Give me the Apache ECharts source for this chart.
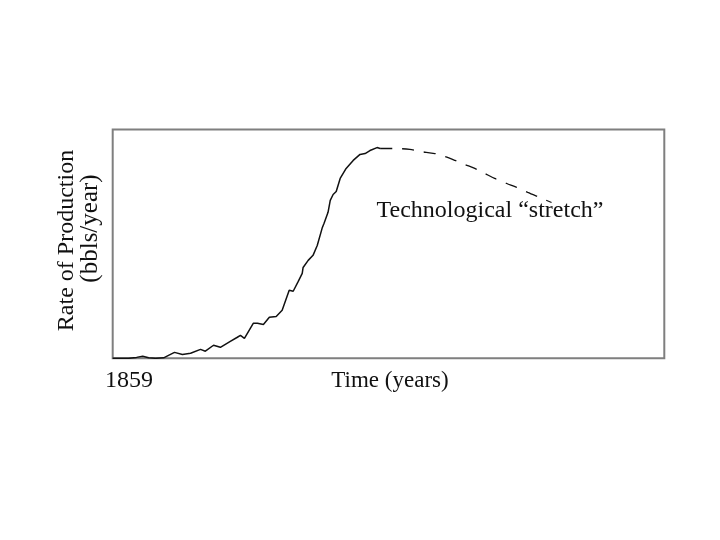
<!DOCTYPE html>
<html>
<head>
<meta charset="utf-8">
<script src="https://cdn.jsdelivr.net/npm/echarts@6/dist/echarts.min.js"></script>
<style>html,body{margin:0;padding:0;background:#fff;}#c{width:720px;height:540px;}</style>
</head>
<body>
<div id="c"></div>
<script>
// Historical (solid) production curve: [year, rate]
const historicalYears = [1859.0,1866.2,1869.8,1872.6,1875.3,1878.4,1882.1,1884.3,1887.0,1890.6,1894.3,1898.8,1901.0,1904.7,1907.8,1912.3,1915.5,1916.9,1918.7,1922.7,1924.6,1927.3,1930.0,1933.1,1935.8,1939.0,1940.8,1943.1,1944.9,1945.3,1947.6,1949.8,1951.7,1953.9,1954.8,1956.6,1957.6,1958.9,1960.3,1962.1,1964.8,1968.0,1971.1,1973.4,1975.6,1978.8,1980.2];
const historicalRate  = [0,0,0.4,0.9,0.2,0,0.2,1.3,2.6,1.7,2.2,3.9,3.1,5.7,4.8,7.4,9.2,10.0,8.7,15.3,15.3,14.8,17.9,18.3,21.0,29.7,29.3,33.6,37.1,39.7,42.8,45.0,49.3,56.8,59.0,63.8,69.0,71.6,72.9,78.6,83.0,86.5,89.1,89.5,90.8,92.1,91.7];
// Projected "technological stretch" (dashed)
const stretchYears = [1980.2,1986.9,1993.7,1998.2,2005.0,2009.5,2014.1,2018.6,2023.1,2027.6,2032.1,2037.6,2042.1,2047.1,2052.5,2057.9];
const stretchRate  = [91.7,91.7,91.3,90.4,89.5,88.2,86.5,84.7,83.0,80.8,78.6,76.4,74.7,72.5,70.3,68.1];
const tickLabels = ['1859'];
const xAxisTitle = 'Time (years)';
const yAxisTitle = ['Rate of Production', '(bbls/year)'];
const annotation = 'Technological \u201cstretch\u201d';

const zip = (a, b) => a.map((v, i) => [v, b[i]]);
const FONT = '"Liberation Serif", "DejaVu Serif", serif';

const chart = echarts.init(document.getElementById('c'), null, {renderer: 'canvas'});
chart.setOption({
  backgroundColor: '#fff',
  animation: false,
  grid: {left: 112.7, right: 55.7, top: 129.5, bottom: 181.7, show: true, borderColor: '#7f7f7f', borderWidth: 2, backgroundColor: 'transparent'},
  xAxis: {type: 'value', min: 1859, max: 2109, axisLine: {show: false}, axisTick: {show: false}, axisLabel: {show: false}, splitLine: {show: false}},
  yAxis: {type: 'value', min: 0, max: 100, axisLine: {show: false}, axisTick: {show: false}, axisLabel: {show: false}, splitLine: {show: false}},
  series: [
    {type: 'line', data: zip(historicalYears, historicalRate), showSymbol: false, symbol: 'none', lineStyle: {color: '#111', width: 1.5}, z: 3},
    {type: 'line', data: zip(stretchYears, stretchRate), showSymbol: false, symbol: 'none', smooth: 0.3, lineStyle: {color: '#111', width: 1.3, type: [12, 10]}, z: 3}
  ],
  graphic: [
    {type: 'text', x: 129, y: 381, style: {text: tickLabels[0], font: '24px ' + FONT, fill: '#111', align: 'center', verticalAlign: 'middle'}},
    {type: 'text', x: 390, y: 381, style: {text: xAxisTitle, font: '23px ' + FONT, fill: '#111', align: 'center', verticalAlign: 'middle'}},
    {type: 'text', x: 490, y: 211, style: {text: annotation, font: '24px ' + FONT, fill: '#111', align: 'center', verticalAlign: 'middle'}},
    {type: 'text', x: 67, y: 240.5, rotation: Math.PI / 2, style: {text: yAxisTitle[0], font: '24px ' + FONT, fill: '#111', align: 'center', verticalAlign: 'middle'}},
    {type: 'text', x: 90, y: 228.5, rotation: Math.PI / 2, style: {text: yAxisTitle[1], font: '25px ' + FONT, fill: '#111', align: 'center', verticalAlign: 'middle'}}
  ]
});
</script>
</body>
</html>
